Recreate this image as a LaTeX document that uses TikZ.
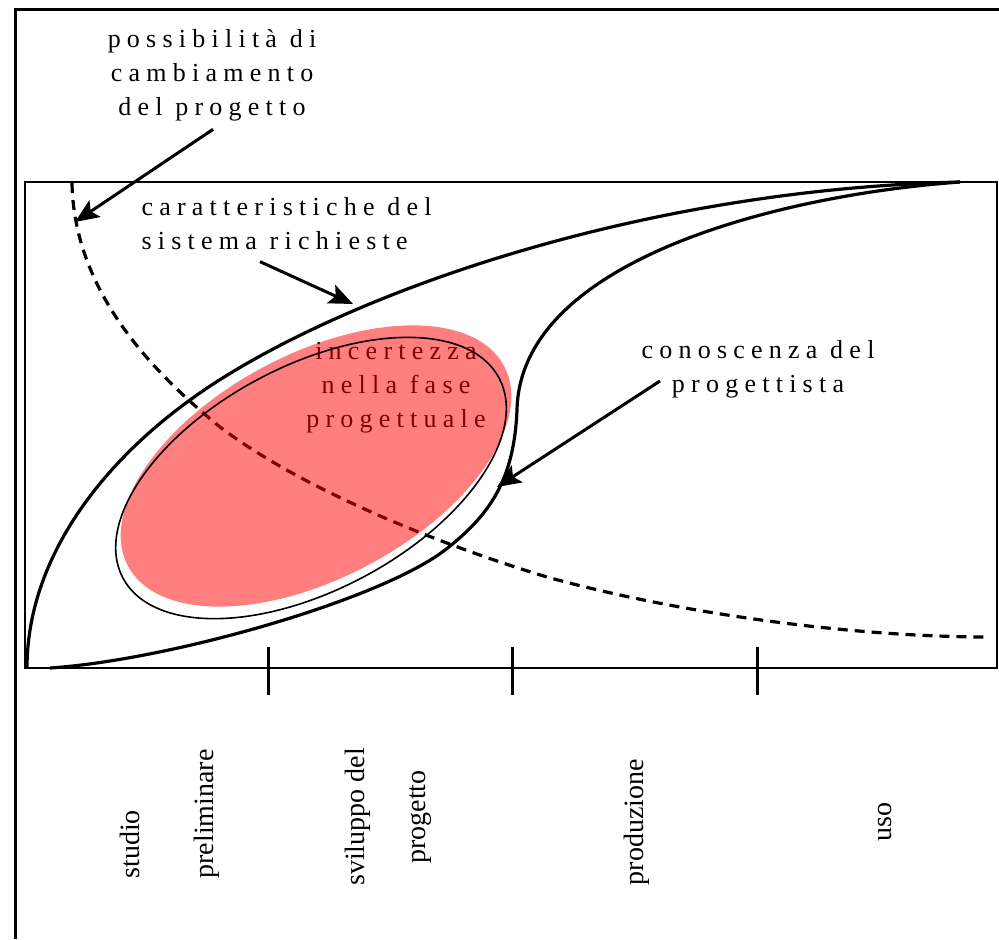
\documentclass[tikz,border=0pt]{standalone}
\usepackage{fontspec}
\setmainfont{Liberation Serif}
\newfontfamily\spaced[LetterSpace=24]{Liberation Serif}
\usetikzlibrary{calc}
\usetikzlibrary{arrows.meta}
\tikzset{
every picture/.style={line width=1.5pt,
                      >={Stealth[length=12pt,width=10pt,inset=2.5pt]}},
%%%%%%%%%%  Node styles
tag/.style={font=\spaced\fontsize{13}{17}\selectfont, align=center,
            inner sep=0pt},
phase/.style={rotate=90, font=\fontsize{14}{30.5}\selectfont, align=center,
              inner sep=0pt},
%%%% different line styles:
frame/.style={line width=1.3pt},
curve/.style={line width=1.6pt},
change/.style={line width=1.6pt, dash pattern=on 5pt off 3.5pt},
tick/.style={line width=1.5pt},
%%%%%%% Fill styles %%%%%%%%%%%%%%%
uncertainty/.style={fill=red, fill opacity=0.5},
}

\begin{document}
\begin{tikzpicture}[x=0.5pt,y=-0.5pt]
\useasboundingbox (0,0) rectangle (999,939);
\draw (999,9) -- (15,9) -- (15,939);
\draw[frame] (25,182) rectangle (997,668);
\foreach \x in {268,512,757}
  \draw[tick] (\x,647) -- (\x,695);
%% caratteristiche del sistema
\draw[curve] (27,668) .. controls (27,560) and (100,465) .. (190,400)
  .. controls (320,305) and (620,190) .. (960,182);
%% conoscenza del progettista
\draw[curve] (960,182) .. controls (780,195) and (520,260) .. (517,410)
  .. controls (514,480) and (490,515) .. (445,550)
  .. controls (380,600) and (170,660) .. (50,668);
%% possibilita di cambiamento
\draw[change] (72,183) .. controls (74,290) and (150,370) .. (220,427)
  .. controls (310,495) and (457,550) .. (547,577)
  .. controls (677,613) and (850,637) .. (990,637);
\coordinate (tipchange) at (75,222);
\coordinate (tipreq) at (353,304);
\coordinate (tipknow) at (497,487);
%% incertezza
\node[tag] (incert) at (396,388) {incertezza\\nella fase\\progettuale};
\fill[uncertainty, rotate around={28:(316,466)}] (316,466)
  ellipse [x radius=213, y radius=112];
\draw[line width=0.8pt, rotate around={28:(311,478)}] (311,478)
  ellipse [x radius=213, y radius=112];
%% labels
\node[tag] (possib) at (212,75) {possibilità di\\cambiamento\\del progetto};
\node[tag, align=left, anchor=west] (caratt) at (140,224)
  {caratteristiche del\\sistema richieste};
\node[tag] (conosc) at (758,369) {conoscenza del\\progettista};
\draw[->] ($(possib.south)+(1,7)$) -- (tipchange);
\draw[->] ($(caratt.south west)+(120,10)$) -- (tipreq);
\draw[->] ($(conosc.west)+(20,12)$) -- (tipknow);
%% fasi
\node[phase, anchor=west] (studio) at (130,880) {studio};
\node[phase, anchor=west] (prelim) at (207,880) {preliminare};
\node[phase] (svil) at (388,817) {sviluppo del\\progetto};
\node[phase] (prod) at (637,822) {produzione};
\node[phase] (uso) at (885,822) {uso};
\end{tikzpicture}
\end{document}
